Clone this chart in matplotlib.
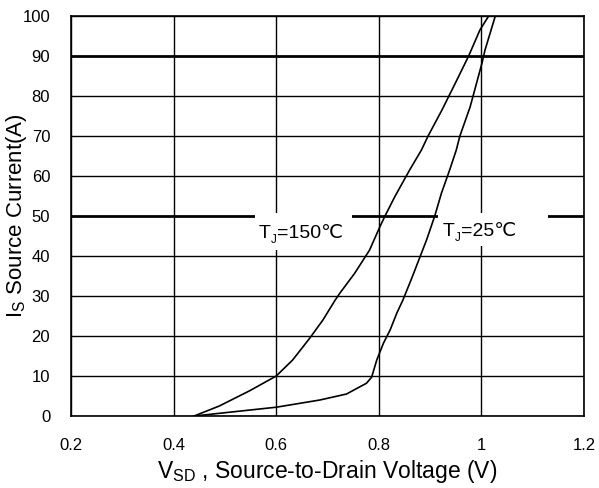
import matplotlib
matplotlib.use("Agg")
import matplotlib.pyplot as plt
from matplotlib.patches import Rectangle

plt.rcParams['font.family'] = ['Liberation Sans', 'DejaVu Sans']
plt.rcParams['mathtext.fontset'] = 'custom'
plt.rcParams['mathtext.rm'] = 'Liberation Sans'
plt.rcParams['mathtext.it'] = 'Liberation Sans'

# Tj = 150C curve: source-drain voltage (V) vs source current (A)
v150 = [0.44, 0.489, 0.548, 0.6, 0.632, 0.665, 0.691, 0.715, 0.724, 0.753, 0.782,
        0.802, 0.812, 0.831, 0.860, 0.883, 0.896, 0.923, 0.949, 0.975, 0.997, 1.014]
i150 = [0, 2.5, 6.3, 10, 14, 19.4, 24, 29, 30.7, 35.7, 41.5,
        47.3, 50, 54.8, 61.5, 66.5, 70, 76.5, 83.2, 90, 96.5, 100]

# Tj = 25C curve
v25 = [0.44, 0.6, 0.685, 0.737, 0.776, 0.786, 0.796, 0.809, 0.822, 0.835, 0.847,
       0.864, 0.893, 0.909, 0.922, 0.938, 0.951, 0.958, 0.978, 1.001, 1.007, 1.027]
i25 = [0, 2.2, 4, 5.5, 8.2, 9.7, 14, 18.2, 21.5, 25.7, 29,
       34.4, 44, 50, 55.7, 61.5, 66.5, 70, 77.3, 88.2, 91.5, 100]

xticks = [0.2, 0.4, 0.6, 0.8, 1.0, 1.2]
xtick_labels = ['0.2', '0.4', '0.6', '0.8', '1', '1.2']
yticks = list(range(0, 101, 10))

fig = plt.figure(figsize=(5.99, 4.88), dpi=100)
ax = fig.add_axes([0.1185, 0.1475, 0.8565, 0.8195])

# grid, the 50 A and 90 A lines are heavier
for x in xticks:
    ax.axvline(x, color='black', lw=1.0, zorder=1)
for y in yticks:
    lw = 2.0 if y in (50, 90) else 1.0
    ax.axhline(y, color='black', lw=lw, zorder=1)

# white boxes behind the labels
ax.add_patch(Rectangle((0.558, 41.5), 0.19, 9.2, facecolor='white', edgecolor='none', zorder=2))
ax.add_patch(Rectangle((0.916, 42.5), 0.214, 8.2, facecolor='white', edgecolor='none', zorder=2))

ax.plot(v150, i150, color='black', lw=1.2, zorder=3)
ax.plot(v25, i25, color='black', lw=1.2, zorder=3)

fs = 14
def tj_label(x, y, num):
    t1 = ax.text(x, y, 'T', fontsize=fs, va='bottom', ha='left', zorder=4)
    t2 = ax.annotate('J', xy=(1, 0), xycoords=t1, xytext=(0.3, -3), textcoords='offset points',
                     fontsize=fs * 0.6, va='bottom', ha='left', zorder=4)
    ax.annotate('=' + num + '\u2103', xy=(1, 0), xycoords=t2, xytext=(0.3, 3),
                textcoords='offset points', fontsize=fs, va='bottom', ha='left', zorder=4)

tj_label(0.565, 43.6, '150')
tj_label(0.925, 44.1, '25')

ax.set_xlim(0.2, 1.2)
ax.set_ylim(0, 100)
ax.set_xticks(xticks)
ax.set_xticklabels(xtick_labels)
ax.set_yticks(yticks)
ax.tick_params(length=0, labelsize=12)
ax.tick_params(axis='y', pad=15)
ax.tick_params(axis='x', pad=16)
for s in ax.spines.values():
    s.set_linewidth(1.2)

ax.set_xlabel(r'V$_\mathrm{SD}$ , Source-to-Drain Voltage (V)', fontsize=16.5)
ax.set_ylabel(r'I$_\mathrm{S}$ Source Current(A)', fontsize=16)
ax.xaxis.set_label_coords(0.5, -0.105)
ax.yaxis.set_label_coords(-0.082, 0.5)

fig.savefig('out.png', dpi=100)
